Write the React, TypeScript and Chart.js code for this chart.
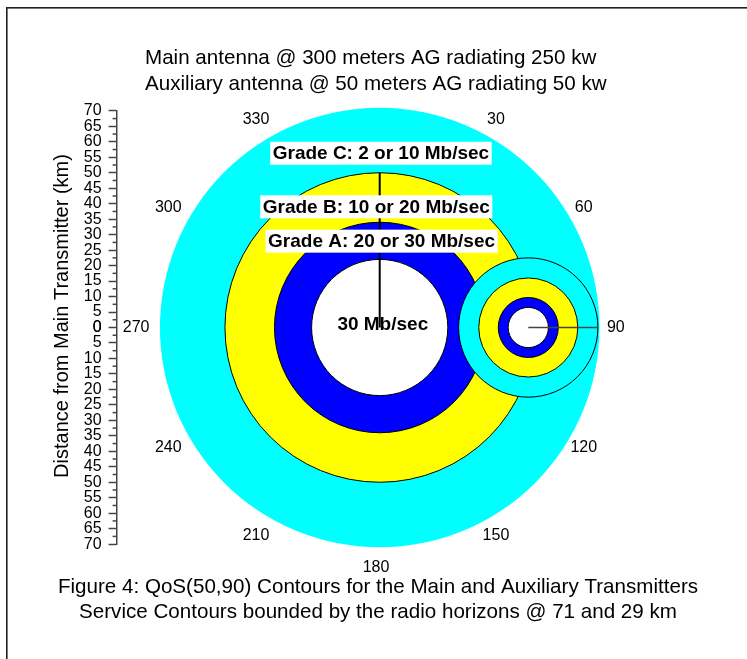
import React, { useEffect, useRef } from 'react';
import { Chart, registerables } from 'chart.js';

Chart.register(...registerables);

// ---- text ----
const titleLines = [
  'Main antenna @ 300 meters AG radiating 250 kw',
  'Auxiliary antenna @ 50 meters AG radiating 50 kw',
];
const captionLines = [
  'Figure 4: QoS(50,90) Contours for the Main and Auxiliary Transmitters',
  'Service Contours bounded by the radio horizons @ 71 and 29 km',
];
const axisTitle = 'Distance from Main Transmitter (km)';

// ---- data (km) ----
const ringColors = ['#00ffff', '#ffff00', '#0000ff', '#ffffff'];
const mainRadiiKm = [71, 50, 34, 22]; // horizon, Grade C, Grade B, Grade A
const auxRadiiKm = [22.5, 16, 9.7, 6.5];
const mainCenterKm = [0, 0];
const auxCenterKm = [48, 0];
const mainSpoke = [
  { x: 0, y: 0 },
  { x: 0, y: 50 },
];
const auxSpoke = [
  { x: 48, y: 0 },
  { x: 70.5, y: 0 },
];
const angleLabels = [30, 60, 90, 120, 150, 180, 210, 240, 270, 300, 330];
const angleLabelRadiusKm = 77.5;
const angleLabelCenterKm = [-1.2, 0];
const gradeLabels = [
  'Grade C: 2 or 10 Mb/sec',
  'Grade B: 10 or 20 Mb/sec',
  'Grade A: 20 or 30 Mb/sec',
  '30 Mb/sec',
];
const gradeLabelX = [0.4, -1.1, 0.6, 1.0];
const gradeLabelY = [56.3, 39.0, 27.9, 1.3];
const gradeLabelBoxed = [true, true, true, false];
const yMin = -70;
const yMax = 70;
const yStep = 5;

const FONT = '"Liberation Sans", Arial, Helvetica, sans-serif';

const drawPlugin = {
  id: 'contours',
  beforeDatasetsDraw(chart: any) {
    const { ctx } = chart;
    const xs = chart.scales.x;
    const ys = chart.scales.y;
    const k = (xs.getPixelForValue(10) - xs.getPixelForValue(0)) / 10;
    const drawSet = (center: number[], radii: number[], outlineFirst: boolean) => {
      const cx = xs.getPixelForValue(center[0]);
      const cy = ys.getPixelForValue(center[1]);
      radii.forEach((r, i) => {
        ctx.save();
        ctx.beginPath();
        ctx.arc(cx, cy, r * k, 0, Math.PI * 2);
        ctx.fillStyle = ringColors[i];
        ctx.fill();
        if (i > 0 || outlineFirst) {
          ctx.lineWidth = 1;
          ctx.strokeStyle = '#000';
          ctx.stroke();
        }
        ctx.restore();
      });
    };
    drawSet(mainCenterKm, mainRadiiKm, false);
    drawSet(auxCenterKm, auxRadiiKm, true);
  },
  afterDatasetsDraw(chart: any) {
    const { ctx } = chart;
    const xs = chart.scales.x;
    const ys = chart.scales.y;
    ctx.save();
    ctx.font = `bold 19px ${FONT}`;
    ctx.textAlign = 'center';
    ctx.textBaseline = 'middle';
    gradeLabels.forEach((t, i) => {
      const x = xs.getPixelForValue(gradeLabelX[i]);
      const y = ys.getPixelForValue(gradeLabelY[i]);
      const w = ctx.measureText(t).width;
      if (gradeLabelBoxed[i]) {
        ctx.fillStyle = '#fff';
        ctx.fillRect(x - w / 2 - 2.5, y - 11.5, w + 5, 23);
      }
      ctx.fillStyle = '#000';
      ctx.fillText(t, x, y + 1);
    });
    ctx.restore();
  },
  afterDraw(chart: any) {
    const { ctx } = chart;
    const xs = chart.scales.x;
    const ys = chart.scales.y;
    const k = (xs.getPixelForValue(10) - xs.getPixelForValue(0)) / 10;
    ctx.save();
    // frame
    ctx.fillStyle = '#222';
    ctx.fillRect(6, 7, 1.6, 700);
    ctx.fillRect(6, 7, 800, 1.6);

    // titles
    ctx.fillStyle = '#000';
    ctx.font = `20.6px ${FONT}`;
    ctx.textBaseline = 'middle';
    ctx.textAlign = 'left';
    ctx.fillText(titleLines[0], 145, 58);
    ctx.fillText(titleLines[1], 145, 84);
    ctx.textAlign = 'center';
    ctx.fillText(captionLines[0], 378, 587);
    ctx.fillText(captionLines[1], 378, 612);

    // axis title
    ctx.save();
    ctx.font = `20px ${FONT}`;
    ctx.translate(62, 316);
    ctx.rotate(-Math.PI / 2);
    ctx.textAlign = 'center';
    ctx.textBaseline = 'middle';
    ctx.fillText(axisTitle, 0, 0);
    ctx.restore();

    // angle labels
    ctx.font = `16px ${FONT}`;
    ctx.textAlign = 'center';
    ctx.textBaseline = 'middle';
    const lcx = xs.getPixelForValue(angleLabelCenterKm[0]);
    const lcy = ys.getPixelForValue(angleLabelCenterKm[1]);
    angleLabels.forEach((a) => {
      const th = (a * Math.PI) / 180;
      const x = lcx + angleLabelRadiusKm * k * Math.sin(th);
      const y = lcy - angleLabelRadiusKm * k * Math.cos(th);
      ctx.fillText(String(a), x, y);
    });

    // minor ticks
    const left = ys.right;
    ctx.strokeStyle = '#444';
    ctx.lineWidth = 1.5;
    for (let v = yMin + yStep / 2; v < yMax; v += yStep) {
      const y = ys.getPixelForValue(v);
      ctx.beginPath();
      ctx.moveTo(left - 4, y);
      ctx.lineTo(left, y);
      ctx.stroke();
    }
    // the zero label is printed twice (upper and lower halves)
    ctx.font = `16px ${FONT}`;
    ctx.textAlign = 'right';
    ctx.fillStyle = '#000';
    ctx.fillText('0', left - 15, ys.getPixelForValue(0) + 0.5);
    ctx.restore();
  },
};

export default function App() {
  const ref = useRef<HTMLCanvasElement | null>(null);
  useEffect(() => {
    if (!ref.current) return;
    const chart = new Chart(ref.current, {
      type: 'scatter',
      data: {
        datasets: [
          {
            type: 'line',
            data: mainSpoke,
            borderColor: '#000',
            borderWidth: 2,
            pointRadius: 0,
            fill: false,
          } as any,
          {
            type: 'line',
            data: auxSpoke,
            borderColor: '#444',
            borderWidth: 1.5,
            pointRadius: 0,
            fill: false,
          } as any,
        ],
      },
      options: {
        animation: false,
        responsive: false,
        events: [],
        layout: { padding: { left: 0, right: 104.2, top: 110.85, bottom: 114.85 } },
        plugins: { legend: { display: false }, tooltip: { enabled: false }, title: { display: false } },
        scales: {
          x: { type: 'linear', min: -85, max: 85, display: false },
          y: {
            type: 'linear',
            position: 'left',
            min: yMin,
            max: yMax,
            afterFit: (s: any) => {
              s.width = 116.6;
            },
            border: { display: true, color: '#444', width: 1.5 },
            grid: {
              display: true,
              drawOnChartArea: false,
              drawTicks: true,
              tickLength: 8,
              tickColor: '#444',
              tickWidth: 1.5,
            },
            ticks: {
              stepSize: yStep,
              autoSkip: false,
              padding: 7,
              color: '#000',
              font: { size: 16, family: FONT },
              callback: (v: any) => String(Math.abs(Number(v))),
            },
          },
        },
      } as any,
      plugins: [drawPlugin],
    });
    return () => chart.destroy();
  }, []);
  return (
    <div
      style={{
        position: 'absolute',
        left: 0,
        top: 0,
        width: 747,
        height: 659,
        overflow: 'hidden',
        background: '#fff',
      }}
    >
      <canvas ref={ref} width={747} height={659} style={{ display: 'block' }} />
    </div>
  );
}
